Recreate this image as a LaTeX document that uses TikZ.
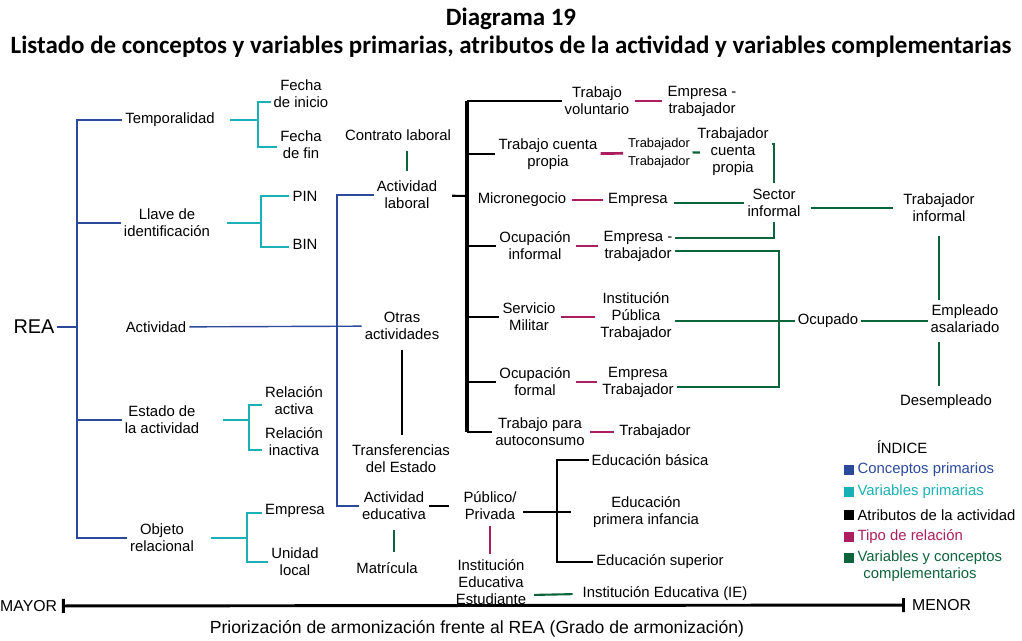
\documentclass[tikz,border=0pt]{standalone}
\usepackage{fontspec}
\setmainfont{Liberation Sans}
\newfontfamily\titulofont{Carlito}
\usetikzlibrary{calc,positioning,arrows.meta}

\definecolor{cprim}{RGB}{44,74,156}
\definecolor{vprim}{RGB}{27,176,182}
\definecolor{trel}{RGB}{172,30,96}
\definecolor{vcomp}{RGB}{14,100,58}

\tikzset{
    lbl/.style={align=center, inner sep=2.5pt, font=\fontsize{12.7}{14.5}\selectfont},
    chico/.style={align=center, inner sep=2pt, font=\fontsize{11}{15}\selectfont},
    titulo/.style={inner sep=0pt, font=\titulofont\bfseries\fontsize{21.3}{24}\selectfont},
    eje/.style={inner sep=0pt, font=\fontsize{13.5}{16}\selectfont},
    ley/.style={align=left, inner sep=1pt, font=\fontsize{12.7}{14.5}\selectfont},
    cuadro/.style={minimum size=7.8pt, inner sep=0pt},
    cp/.style={draw=cprim, line width=1.2pt},
    vp/.style={draw=vprim, line width=1.6pt},
    atr/.style={draw=black, line width=1.8pt},
    rel/.style={draw=trel, line width=2.3pt, shorten <=2pt, shorten >=2pt},
    vc/.style={draw=vcomp, line width=1.8pt},
}

\begin{document}
\begin{tikzpicture}[x=0.03cm, y=-0.03cm]
        \useasboundingbox (0,0) rectangle (1022,641);
        %\draw[gray, dashed] (0,0) grid[step=50] (1022,641);

        \node[titulo] (tit1) at (511,19) {Diagrama 19};
        \node[titulo] (tit2) at (511,47) {Listado de conceptos y variables primarias, atributos de la actividad y variables complementarias};

        \node[inner sep=2pt, font=\fontsize{17}{20}\selectfont] (rea) at (34,327) {REA};

        \node[lbl] (temp) at (170,120) {Temporalidad};
        \node[lbl] (llave) at (167,223) {Llave de\\identificación};
        \node[lbl] (act) at (156,327) {Actividad};
        \node[lbl] (estado) at (162,420) {Estado de\\la actividad};
        \node[lbl] (objeto) at (162,538) {Objeto\\relacional};

        \node[lbl] (fini) at (301,94) {Fecha\\de inicio};
        \node[lbl] (ffin) at (301,145) {Fecha\\de fin};
        \node[lbl] (pin) at (305,196) {PIN};
        \node[lbl] (bin) at (305,244) {BIN};
        \node[lbl] (ract) at (294,401) {Relación\\activa};
        \node[lbl] (rina) at (294,442) {Relación\\inactiva};
        \node[lbl] (empo) at (295,511) {Empresa};
        \node[lbl] (unid) at (295,562) {Unidad\\local};

        \coordinate (eje) at (77,327);
        \draw[cp] (rea) -- (eje);
        \draw[cp] (temp.west) -| (eje) |- (objeto.west);
        \draw[cp] (eje |- llave) -- (llave.west);
        \draw[cp] (eje |- estado) -- (estado.west);

        \coordinate (jt) at (258,120);
        \coordinate (jl) at (261,223);
        \coordinate (je) at (249,420);
        \coordinate (jo) at (247,538);
        \draw[vp, shorten <=10pt] (temp) -- (jt);
        \draw[vp] ($(fini.west)+(0,8)$) -| (jt) |- ($(ffin.west)+(0,2)$);
        \draw[vp, shorten <=12pt] (llave) -- (jl);
        \draw[vp] (pin.west) -| (jl) |- ($(bin.west)+(0,3)$);
        \draw[vp, shorten <=18pt] (estado) -- (je);
        \draw[vp] ($(ract.west)+(0,4)$) -| (je) |- ($(rina.west)+(0,8)$);
        \draw[vp, shorten <=12pt] (objeto) -- (jo);
        \draw[vp] ($(empo.west)+(0,2)$) -| (jo) |- (unid.west);

        \node[lbl] (contr) at (398,135) {Contrato laboral};
        \node[lbl] (lab) at (407,195) {Actividad\\laboral};
        \node[lbl] (otras) at (402,326) {Otras\\actividades};
        \node[lbl] (transf) at (401,459) {Transferencias\\del Estado};
        \node[lbl] (edu) at (394,506) {Actividad\\educativa};
        \node[lbl] (matr) at (387,568) {Matrícula};

        \coordinate (eje2) at (337,327);
        \draw[cp] (act) -- (otras);
        \draw[cp] (lab.west) -| (eje2) |- (edu.west);
        \draw[vc, shorten <=6pt, shorten >=6pt] (lab.north) -- (lab.north |- contr.south);
        \draw[atr, shorten <=6pt, shorten >=6pt] (otras.south) -- (otras.south |- transf.north);
        \draw[vc, shorten <=6pt, shorten >=6pt] (edu.south) -- (edu.south |- matr.north);

        \node[lbl] (vol) at (597,101) {Trabajo\\voluntario};
        \node[lbl] (cta) at (548,154) {Trabajo cuenta\\propia};
        \node[lbl] (micro) at (522,200) {Micronegocio};
        \node[lbl] (oinf) at (535,246) {Ocupación\\informal};
        \node[lbl] (mil) at (529,317) {Servicio\\Militar};
        \node[lbl] (ofor) at (535,382) {Ocupación\\formal};
        \node[lbl] (auto) at (540,432) {Trabajo para\\autoconsumo};

        \coordinate (jlab) at (467,196);
        \draw[atr, shorten <=10pt] (lab) -- (jlab);
        \draw[atr, line width=2.6pt] (jlab |- vol) -- (jlab |- auto);
        \draw[atr] (jlab |- vol) -- (vol.west);
        \draw[atr] (jlab |- cta) -- (cta.west);
        \draw[atr] (jlab |- oinf) -- (oinf.west);
        \draw[atr] (jlab |- mil) -- (mil.west);
        \draw[atr] (jlab |- ofor) -- (ofor.west);
        \draw[atr] (jlab |- auto) -- (auto.west);

        \node[lbl] (emptv) at (702,101) {Empresa -\\trabajador};
        \node[chico] (trtr) at (659,153) {Trabajador\\Trabajador};
        \node[lbl] (empm) at (638,200) {Empresa};
        \node[lbl] (empi) at (638,246) {Empresa -\\trabajador};
        \node[lbl] (ipt) at (636,317) {Institución\\Pública\\Trabajador};
        \node[lbl] (empf) at (638,382) {Empresa\\Trabajador};
        \node[lbl] (trab) at (655,432) {Trabajador};

        \draw[rel] (vol) -- (emptv);
        \draw[rel, shorten <=0pt] (cta) -- (trtr);
        \draw[rel] (micro) -- (empm);
        \draw[rel] (oinf) -- (empi);
        \draw[rel] (mil) -- (ipt);
        \draw[rel] (ofor) -- (empf);
        \draw[rel] (auto) -- (trab);

        \node[lbl] (tcp) at (733,152) {Trabajador\\cuenta\\propia};
        \node[lbl] (sector) at (774,203) {Sector\\informal};
        \node[lbl] (trinf) at (939,208) {Trabajador\\informal};
        \node[lbl] (ocup) at (828,321) {Ocupado};
        \node[lbl] (empl) at (965,319) {Empleado\\asalariado};
        \node[lbl] (desemp) at (946,402) {Desempleado};

        \coordinate (jocu) at (779,321);
        \draw[vc, shorten >=-5pt] (trtr) -- (tcp);
        \draw[vc, shorten >=3pt] ($(tcp.east)+(0,-8)$) -| (sector.north);
        \draw[vc, shorten <=3pt] (empm.east |- sector) -- (sector.west);
        \draw[vc, shorten >=2pt] ($(empi.east)+(0,-8)$) -| (sector.south);
        \draw[vc] ($(empi.east)+(0,5)$) -| (jocu) |- ($(empf.east)+(0,5)$);
        \draw[vc] (ipt.east |- ocup) -- (ocup.west);
        \draw[vc] (ocup) -- (ocup -| empl.west);
        \draw[vc, shorten <=6pt, shorten >=6pt] (sector.east |- trinf) -- (trinf.west);
        \draw[vc, shorten <=9pt, shorten >=2pt] (trinf.south) -- (trinf.south |- empl.north);
        \draw[vc, shorten <=5pt, shorten >=5pt] (trinf.south |- empl.south) -- (trinf.south |- desemp.north);

        \node[lbl] (pub) at (490,506) {Público/\\Privada};
        \node[lbl] (ied) at (491,582) {Institución\\Educativa\\Estudiante};
        \node[lbl] (ie) at (665,594) {Institución Educativa (IE)};
        \node[lbl] (bas) at (650,460) {Educación básica};
        \node[lbl] (prim) at (646,512) {Educación\\primera infancia};
        \node[lbl] (sup) at (660,562) {Educación superior};

        \coordinate (jed) at (557,513);
        \draw[atr, shorten >=10pt] (edu) -- (pub);
        \draw[atr, shorten <=3pt, shorten >=16pt] (pub.east |- prim) -- (prim.west);
        \draw[atr] (bas.west) -| (jed) |- (sup.west);
        \draw[rel] (pub.south) -- (pub.south |- ied.north);
        \draw[vc, shorten <=4pt, shorten >=6pt] ($(ied.east)+(0,13)$) -- (ie.west);

        \node[lbl] (indice) at (902,447) {ÍNDICE};
        \node[cuadro, fill=cprim] (c1) at (849,470) {};
        \node[cuadro, fill=vprim] (c2) at (849,492) {};
        \node[cuadro, fill=black] (c3) at (849,515) {};
        \node[cuadro, fill=trel] (c4) at (849,537) {};
        \node[cuadro, fill=vcomp] (c5) at (849,558) {};
        \node[ley, text=cprim, right=2pt of c1] (l1) {Conceptos primarios};
        \node[ley, text=vprim, right=2pt of c2] (l2) {Variables primarias};
        \node[ley, right=2pt of c3] (l3) {Atributos de la actividad};
        \node[ley, text=trel, right=2pt of c4] (l4) {Tipo de relación};
        \node[ley, text=vcomp, right=2pt of c5, yshift=-7.2pt] (l5) {Variables y conceptos\\\hspace*{5pt}complementarios};

        \node[eje, anchor=west] (mayor) at (0,606) {MAYOR};
        \node[eje, anchor=west] (menor) at (912,605) {MENOR};
        \draw[{Bar[width=12pt]}-{Bar[width=12pt]}, line width=2.5pt, shorten <=4pt, shorten >=6pt] (mayor) -- (menor);
        \node[eje, font=\fontsize{15}{18}\selectfont] (cap) at (477,629) {Priorización de armonización frente al REA (Grado de armonización)};
    \end{tikzpicture}
\end{document}
